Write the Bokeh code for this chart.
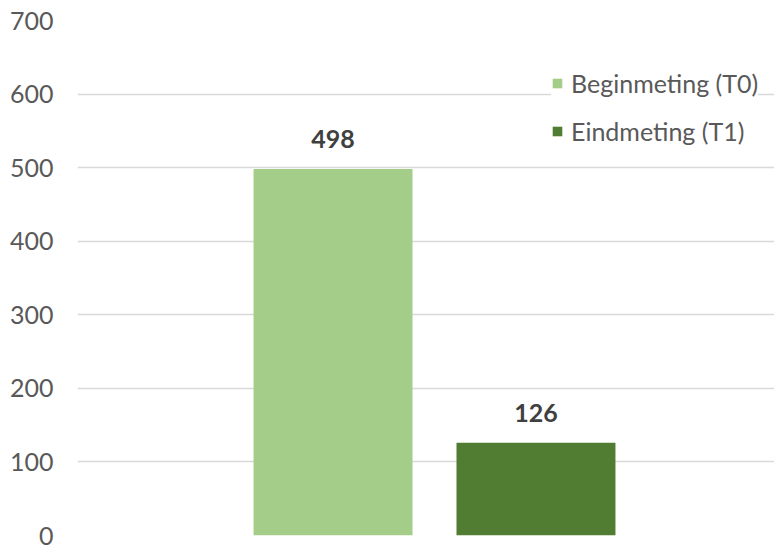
from bokeh.plotting import figure
from bokeh.models import Range1d, FixedTicker, Legend, LegendItem, ColumnDataSource
from bokeh.core.properties import value
from bokeh.embed import file_html
from bokeh.resources import INLINE

# Data
groups = ["Totaal"]
series = ["Beginmeting (T0)", "Eindmeting (T1)"]
values = [498, 126]
colors = ["#A5CD8A", "#507D32"]
y_ticks = [0, 100, 200, 300, 400, 500, 600, 700]

FONT = "Lato"
FS = "25px"

p = figure(width=774, height=550, output_backend="svg", toolbar_location=None,
           x_range=Range1d(-0.5064, 0.4823), y_range=Range1d(0, 700),
           min_border_left=77, min_border_right=0, min_border_top=20, min_border_bottom=15)
p.outline_line_color = None
p.background_fill_color = "white"
p.border_fill_color = "white"

p.xaxis.visible = False
p.xgrid.visible = False
p.ygrid.grid_line_color = "#D9D9D9"
p.ygrid.grid_line_width = 1.5

yax = p.yaxis[0]
yax.ticker = FixedTicker(ticks=y_ticks)
yax.axis_line_color = None
yax.major_tick_line_color = None
yax.minor_tick_line_color = None
yax.major_tick_out = 0
yax.major_label_standoff = 24
yax.major_label_text_font = FONT
yax.major_label_text_font_size = FS
yax.major_label_text_color = "#595959"

bar_w = 0.2255
gap = 0.0624
offsets = [-(bar_w + gap) / 2, (bar_w + gap) / 2]
base = list(range(len(groups)))[0]

items = []
for name, val, col, off in zip(series, values, colors, offsets):
    src = ColumnDataSource(dict(x=[base + off], top=[val], lab=[str(val)]))
    r = p.vbar(x="x", top="top", width=bar_w, source=src, fill_color=col, line_color=None)
    p.text(x="x", y="top", text="lab", source=src, text_align="center", text_baseline="alphabetic",
           y_offset=-30, text_font=value(FONT), text_font_size=FS, text_font_style="bold",
           text_color="#404040")
    items.append(LegendItem(label=name, renderers=[r]))

legend = Legend(items=items, location=(474, 389), background_fill_color="white",
                background_fill_alpha=1.0, border_line_color=None,
                label_text_font=FONT, label_text_font_size=FS, label_text_color="#595959",
                glyph_width=12, glyph_height=12, label_height=25, spacing=18, padding=8,
                label_standoff=8, margin=0)
p.add_layout(legend, "center")

open("out.html", "w").write(file_html(p, INLINE))
